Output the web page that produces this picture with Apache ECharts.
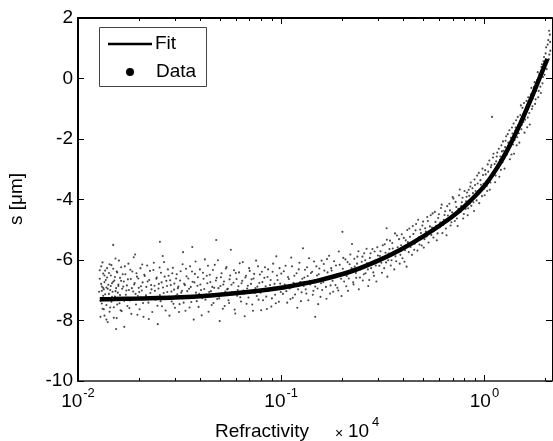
<!DOCTYPE html>
<html><head><meta charset="utf-8">
<script src="https://cdn.jsdelivr.net/npm/echarts@6/dist/echarts.min.js"></script>
<style>html,body{margin:0;padding:0;background:#fff}#c{width:553px;height:441px}</style>
</head><body><div id="c"></div>
<script>
// Fit curve (x in units of 1e4, y in µm)
const fitX = [0.0128,0.015,0.02,0.03,0.045,0.07,0.1,0.124,0.15,0.22,0.3,0.386,0.5,0.68,0.8,1.0,1.16,1.3,1.5,1.75,2.04];
const fitY = [-7.30,-7.29,-7.27,-7.24,-7.17,-7.05,-6.92,-6.80,-6.69,-6.38,-6.02,-5.66,-5.22,-4.61,-4.22,-3.55,-2.93,-2.35,-1.50,-0.45,0.65];

// Measured data points [x, y]
const dataA = [[0.0128,-6.62],[0.0129,-7.35],[0.0130,-6.21],[0.0131,-7.02],[0.0131,-6.88],[0.0132,-7.61],[0.0133,-6.45],[0.0133,-7.18],[0.0134,-6.97],[0.0135,-7.84],[0.0135,-6.73],[0.0136,-6.35],[0.0137,-7.27],[0.0138,-6.91],[0.0138,-7.49],[0.0139,-6.58],[0.0140,-8.05],[0.0141,-6.82],[0.0142,-7.12],[0.0143,-6.14],[0.0143,-7.71],[0.0144,-6.99],[0.0145,-6.51],[0.0146,-7.38],[0.0147,-6.77],[0.0148,-7.05],[0.0149,-6.29],[0.0150,-7.56],[0.0151,-6.68],[0.0152,-7.21],[0.0153,-5.95],[0.0154,-6.93],[0.0155,-7.92],[0.0156,-6.41],[0.0157,-7.08],[0.0158,-6.86],[0.0160,-7.43],[0.0161,-6.59],[0.0162,-7.66],[0.0163,-6.24],[0.0165,-6.95],[0.0166,-7.29],[0.0168,-6.71],[0.0169,-8.21],[0.0171,-6.47],[0.0172,-7.15],[0.0174,-6.84],[0.0175,-7.52],[0.0177,-6.12],[0.0178,-6.99],[0.0180,-7.34],[0.0182,-6.63],[0.0183,-7.78],[0.0185,-6.38],[0.0187,-7.04],[0.0189,-6.81],[0.0191,-5.82],[0.0193,-7.47],[0.0195,-6.55],[0.0197,-7.19],[0.0199,-6.92],[0.0201,-7.63],[0.0203,-6.27],[0.0206,-7.01],[0.0208,-6.74],[0.0210,-7.88],[0.0212,-6.49],[0.0215,-7.24],[0.0217,-6.89],[0.0219,-6.18],[0.0222,-7.41],[0.0224,-6.66],[0.0227,-7.09],[0.0230,-6.97],[0.0232,-7.72],[0.0235,-6.33],[0.0238,-6.85],[0.0241,-7.31],[0.0244,-6.58],[0.0247,-8.12],[0.0250,-6.79],[0.0253,-7.16],[0.0256,-6.42],[0.0259,-7.53],[0.0262,-6.91],[0.0265,-6.07],[0.0268,-7.27],[0.0272,-6.69],[0.0275,-7.06],[0.0279,-6.52],[0.0282,-7.84],[0.0286,-6.83],[0.0289,-7.37],[0.0293,-6.26],[0.0297,-6.98],[0.0300,-7.58]];
const dataA2 = [[0.0127,-7.05],[0.0128,-6.34],[0.0129,-7.88],[0.0130,-6.79],[0.0131,-7.44],[0.0132,-6.08],[0.0133,-6.92],[0.0134,-7.63],[0.0135,-6.51],[0.0136,-7.13],[0.0137,-6.66],[0.0138,-7.97],[0.0139,-6.27],[0.0140,-6.95],[0.0141,-7.31],[0.0142,-6.43],[0.0144,-7.57],[0.0145,-6.86],[0.0146,-6.17],[0.0147,-7.22],[0.0149,-6.72],[0.0149,-5.50],[0.0150,-7.91],[0.0152,-6.56],[0.0153,-7.03],[0.0154,-8.28],[0.0155,-6.38],[0.0156,-7.47],[0.0158,-6.81],[0.0159,-6.02],[0.0161,-7.16],[0.0163,-6.69],[0.0164,-7.69],[0.0166,-6.47],[0.0167,-6.88],[0.0169,-7.35],[0.0170,-6.21],[0.0173,-7.01],[0.0176,-6.64],[0.0179,-7.59],[0.0181,-6.32],[0.0184,-6.93],[0.0186,-7.26],[0.0188,-5.91],[0.0190,-6.76],[0.0192,-7.12],[0.0194,-6.44],[0.0196,-7.81],[0.0198,-6.61],[0.0200,-7.06],[0.0204,-6.87],[0.0207,-6.15],[0.0209,-7.42],[0.0213,-6.53],[0.0216,-7.17],[0.0220,-6.71],[0.0223,-7.95],[0.0226,-6.36],[0.0229,-6.83],[0.0233,-7.28],[0.0236,-6.09],[0.0239,-7.02],[0.0243,-6.62],[0.0246,-7.51],[0.0249,-6.94],[0.0252,-6.25],[0.0253,-5.40],[0.0255,-7.36],[0.0258,-6.74],[0.0261,-5.87],[0.0264,-7.09],[0.0267,-6.55],[0.0270,-7.67],[0.0274,-6.86],[0.0277,-6.31],[0.0281,-7.21],[0.0284,-6.67],[0.0288,-7.04],[0.0291,-6.44],[0.0295,-7.45],[0.0298,-6.78]];
const dataB = [[0.0304,-6.61],[0.0308,-7.13],[0.0312,-6.88],[0.0316,-7.46],[0.0320,-6.37],[0.0325,-7.02],[0.0329,-5.74],[0.0333,-6.79],[0.0338,-7.68],[0.0342,-6.54],[0.0347,-7.21],[0.0352,-6.95],[0.0356,-6.21],[0.0361,-7.39],[0.0365,-5.57],[0.0366,-6.72],[0.0371,-7.97],[0.0376,-6.46],[0.0381,-7.08],[0.0387,-6.85],[0.0392,-7.55],[0.0398,-6.31],[0.0403,-6.99],[0.0409,-7.26],[0.0415,-6.62],[0.0421,-5.98],[0.0427,-7.14],[0.0433,-6.77],[0.0439,-7.71],[0.0445,-6.49],[0.0451,-7.03],[0.0458,-6.89],[0.0464,-7.42],[0.0471,-6.16],[0.0477,-6.68],[0.0479,-5.34],[0.0484,-7.29],[0.0491,-6.93],[0.0498,-8.02],[0.0505,-6.57],[0.0512,-7.11],[0.0519,-6.81],[0.0527,-7.52],[0.0534,-6.28],[0.0542,-6.97],[0.0550,-7.33],[0.0557,-6.64],[0.0565,-5.66],[0.0573,-7.06],[0.0582,-6.75],[0.0590,-7.64],[0.0598,-6.43],[0.0607,-7.18],[0.0616,-6.87],[0.0625,-6.11],[0.0634,-7.37],[0.0643,-6.69],[0.0652,-7.01],[0.0661,-7.86],[0.0671,-6.52],[0.0680,-6.94],[0.0690,-7.24],[0.0700,-6.36],[0.0710,-6.79],[0.0720,-7.47],[0.0731,-6.61],[0.0741,-7.09],[0.0752,-6.02],[0.0763,-6.88],[0.0774,-7.31],[0.0785,-6.48],[0.0797,-7.66],[0.0808,-6.73],[0.0820,-6.97],[0.0832,-6.24],[0.0844,-7.21],[0.0856,-6.56],[0.0868,-7.02],[0.0881,-6.83],[0.0894,-7.54],[0.0907,-6.39],[0.0920,-6.91],[0.0933,-7.15],[0.0946,-5.88],[0.0960,-6.66],[0.0974,-7.38],[0.0988,-6.78]];
const dataB2 = [[0.0302,-7.19],[0.0306,-6.47],[0.0310,-6.93],[0.0314,-7.72],[0.0318,-6.68],[0.0322,-7.08],[0.0327,-6.14],[0.0331,-7.41],[0.0336,-6.83],[0.0340,-6.29],[0.0345,-7.03],[0.0349,-6.61],[0.0354,-7.57],[0.0359,-6.89],[0.0364,-6.38],[0.0369,-7.24],[0.0374,-6.74],[0.0379,-6.05],[0.0384,-7.36],[0.0389,-6.57],[0.0395,-7.12],[0.0400,-6.81],[0.0406,-7.83],[0.0412,-6.42],[0.0418,-6.96],[0.0424,-7.31],[0.0430,-6.52],[0.0436,-6.19],[0.0442,-7.06],[0.0448,-6.73],[0.0455,-7.49],[0.0461,-6.33],[0.0468,-6.92],[0.0474,-7.18],[0.0481,-6.59],[0.0488,-6.01],[0.0495,-7.27],[0.0502,-6.86],[0.0509,-6.44],[0.0516,-7.61],[0.0523,-6.71],[0.0531,-7.04],[0.0538,-6.23],[0.0546,-6.95],[0.0554,-7.42],[0.0561,-6.51],[0.0569,-6.82],[0.0578,-7.14],[0.0586,-6.34],[0.0594,-7.77],[0.0603,-6.63],[0.0611,-6.99],[0.0620,-6.41],[0.0629,-7.23],[0.0638,-6.77],[0.0647,-6.07],[0.0657,-7.11],[0.0666,-6.58],[0.0675,-7.45],[0.0685,-6.85],[0.0695,-6.27],[0.0705,-7.02],[0.0715,-6.64],[0.0726,-7.68],[0.0736,-6.46],[0.0747,-6.93],[0.0758,-7.19],[0.0769,-6.21],[0.0780,-6.76],[0.0791,-7.08],[0.0803,-6.39],[0.0814,-7.33],[0.0826,-6.59],[0.0838,-6.87],[0.0850,-7.62],[0.0862,-6.31],[0.0875,-6.98],[0.0887,-6.66],[0.0900,-7.27],[0.0913,-6.12],[0.0927,-6.79],[0.0940,-7.43],[0.0953,-6.51],[0.0967,-6.94],[0.0981,-6.27],[0.0995,-7.06]];
const dataC = [[0.100,-6.45],[0.102,-7.12],[0.104,-6.81],[0.105,-6.19],[0.107,-7.41],[0.109,-6.63],[0.110,-6.94],[0.112,-5.92],[0.114,-7.25],[0.116,-6.52],[0.118,-6.86],[0.120,-7.58],[0.122,-6.31],[0.124,-6.73],[0.126,-7.07],[0.128,-5.61],[0.130,-6.58],[0.132,-6.97],[0.134,-6.24],[0.136,-7.33],[0.138,-6.69],[0.140,-6.43],[0.143,-7.15],[0.145,-6.05],[0.147,-6.88],[0.147,-7.88],[0.150,-6.51],[0.152,-7.46],[0.154,-6.28],[0.157,-6.77],[0.159,-6.99],[0.162,-6.13],[0.164,-6.62],[0.167,-7.28],[0.169,-6.41],[0.172,-5.86],[0.175,-6.84],[0.177,-6.35],[0.180,-7.05],[0.183,-6.57],[0.186,-6.18],[0.189,-6.92],[0.192,-5.72],[0.195,-6.46],[0.198,-7.19],[0.200,-5.07],[0.201,-6.29],[0.204,-6.71],[0.207,-5.98],[0.210,-6.53],[0.213,-7.02],[0.217,-6.14],[0.220,-6.38],[0.223,-5.47],[0.227,-6.81],[0.230,-6.22],[0.234,-6.59],[0.237,-5.89],[0.241,-6.97],[0.245,-6.31],[0.249,-6.06],[0.252,-6.68],[0.256,-5.78],[0.260,-6.44],[0.264,-6.11],[0.268,-6.86],[0.273,-5.93],[0.277,-6.27],[0.281,-5.64],[0.286,-6.52],[0.290,-6.02],[0.294,-6.71],[0.299,-5.85]];
const dataC2 = [[0.101,-6.88],[0.103,-6.37],[0.106,-7.03],[0.108,-6.56],[0.111,-7.29],[0.113,-6.21],[0.115,-6.75],[0.117,-7.14],[0.119,-6.44],[0.121,-6.97],[0.123,-6.09],[0.125,-7.36],[0.127,-6.62],[0.129,-6.86],[0.131,-6.32],[0.133,-7.11],[0.135,-6.53],[0.137,-5.94],[0.139,-6.81],[0.142,-6.39],[0.144,-7.02],[0.146,-6.66],[0.149,-6.21],[0.151,-6.94],[0.153,-6.47],[0.156,-7.22],[0.158,-6.02],[0.161,-6.73],[0.163,-6.35],[0.166,-6.89],[0.168,-5.97],[0.171,-6.58],[0.174,-7.11],[0.176,-6.27],[0.179,-6.69],[0.182,-6.04],[0.185,-6.83],[0.188,-6.48],[0.191,-7.01],[0.194,-6.16],[0.197,-6.62],[0.202,-5.93],[0.206,-6.45],[0.209,-6.87],[0.212,-6.07],[0.215,-6.61],[0.219,-5.82],[0.222,-6.27],[0.226,-6.74],[0.229,-5.96],[0.233,-6.43],[0.236,-6.12],[0.240,-5.71],[0.244,-6.58],[0.248,-6.22],[0.251,-5.89],[0.255,-6.47],[0.259,-6.01],[0.263,-5.63],[0.267,-6.31],[0.271,-6.66],[0.275,-5.78],[0.279,-6.09],[0.284,-6.41],[0.288,-5.72],[0.292,-6.18],[0.297,-5.58]];
const dataD = [[0.304,-6.19],[0.308,-5.71],[0.313,-6.42],[0.318,-5.93],[0.323,-5.48],[0.328,-6.08],[0.330,-4.95],[0.333,-6.55],[0.338,-5.79],[0.343,-5.36],[0.349,-6.01],[0.354,-5.62],[0.360,-6.31],[0.365,-5.88],[0.371,-5.19],[0.377,-5.74],[0.383,-6.12],[0.389,-5.51],[0.395,-5.94],[0.401,-5.27],[0.407,-5.68],[0.414,-6.22],[0.420,-5.41],[0.427,-4.96],[0.433,-5.57],[0.440,-5.83],[0.447,-5.14],[0.454,-5.46],[0.461,-4.81],[0.468,-5.69],[0.476,-5.25],[0.483,-4.99],[0.491,-5.52],[0.499,-4.73],[0.507,-5.31],[0.515,-5.06],[0.523,-4.58],[0.531,-5.42],[0.539,-4.89],[0.548,-5.17],[0.556,-4.46],[0.565,-5.03],[0.574,-4.74],[0.583,-5.35],[0.592,-4.61],[0.602,-4.92],[0.611,-4.28],[0.621,-5.11],[0.631,-4.67],[0.641,-4.39],[0.651,-5.18],[0.661,-4.53],[0.672,-4.14],[0.682,-4.86],[0.693,-4.42],[0.704,-3.97],[0.715,-4.71],[0.727,-4.25],[0.738,-4.88],[0.750,-3.86],[0.762,-4.41],[0.774,-4.09],[0.786,-4.63],[0.798,-3.72]];
const dataD2 = [[0.306,-5.87],[0.311,-6.09],[0.316,-5.51],[0.321,-6.27],[0.326,-5.76],[0.331,-5.33],[0.336,-6.01],[0.341,-5.64],[0.346,-6.18],[0.352,-5.44],[0.357,-5.82],[0.363,-5.12],[0.368,-6.04],[0.374,-5.58],[0.380,-5.31],[0.386,-5.83],[0.392,-5.15],[0.398,-5.62],[0.404,-6.06],[0.410,-5.35],[0.417,-5.01],[0.424,-5.74],[0.430,-5.23],[0.437,-5.49],[0.444,-4.88],[0.451,-5.66],[0.458,-5.02],[0.465,-5.37],[0.472,-4.67],[0.479,-5.49],[0.487,-5.11],[0.495,-4.86],[0.503,-5.59],[0.511,-4.95],[0.519,-5.22],[0.527,-4.71],[0.535,-5.08],[0.544,-4.52],[0.552,-4.93],[0.561,-5.26],[0.570,-4.41],[0.579,-4.87],[0.588,-5.12],[0.597,-4.49],[0.606,-4.76],[0.616,-4.17],[0.626,-4.84],[0.636,-4.51],[0.646,-4.96],[0.656,-4.22],[0.666,-4.69],[0.677,-4.36],[0.688,-4.75],[0.698,-3.92],[0.710,-4.49],[0.721,-4.08],[0.732,-4.63],[0.744,-4.31],[0.756,-3.67],[0.768,-4.22],[0.780,-3.94],[0.792,-4.48]];
const dataE = [[0.808,-4.31],[0.817,-3.91],[0.827,-4.52],[0.837,-3.68],[0.847,-4.14],[0.857,-3.44],[0.868,-4.02],[0.878,-3.79],[0.889,-4.38],[0.899,-3.52],[0.910,-3.89],[0.921,-3.21],[0.932,-3.71],[0.943,-4.12],[0.955,-3.36],[0.966,-3.62],[0.978,-2.98],[0.990,-3.48],[1.002,-3.86],[1.014,-3.17],[1.026,-3.55],[1.038,-2.84],[1.051,-3.31],[1.063,-3.68],[1.076,-2.93],[1.089,-3.22],[1.090,-1.27],[1.102,-2.61],[1.115,-3.07],[1.129,-3.43],[1.142,-2.74],[1.156,-2.45],[1.170,-2.96],[1.184,-3.25],[1.198,-2.58],[1.212,-2.21],[1.227,-2.77],[1.241,-2.39],[1.256,-2.98],[1.271,-2.06],[1.287,-2.52],[1.302,-1.84],[1.318,-2.31],[1.334,-2.67],[1.350,-1.96],[1.366,-1.62],[1.382,-2.18],[1.399,-2.49],[1.415,-1.73],[1.432,-1.38],[1.450,-1.94],[1.467,-1.55],[1.485,-2.12],[1.502,-1.21],[1.520,-1.68],[1.538,-0.97],[1.557,-1.44],[1.575,-1.79],[1.594,-1.07],[1.613,-0.74],[1.633,-1.29],[1.652,-0.89],[1.672,-1.52],[1.692,-0.53],[1.713,-1.01],[1.733,-0.66],[1.754,-0.28],[1.775,-0.84],[1.796,-0.41],[1.818,-0.05],[1.840,-0.62],[1.862,0.14],[1.884,-0.27],[1.907,0.38],[1.930,-0.16],[1.953,0.57],[1.976,0.12],[2.000,0.83],[2.024,0.31],[2.048,1.12],[2.073,0.64],[2.080,1.58],[2.098,1.45],[2.110,0.92]];
const dataE2 = [[0.812,-4.06],[0.822,-3.77],[0.832,-4.29],[0.842,-3.88],[0.852,-3.57],[0.862,-4.21],[0.873,-3.63],[0.883,-4.09],[0.894,-3.34],[0.905,-3.72],[0.915,-4.03],[0.926,-3.47],[0.938,-3.12],[0.949,-3.77],[0.960,-3.51],[0.972,-3.89],[0.984,-3.19],[0.996,-3.64],[1.008,-3.03],[1.020,-3.41],[1.032,-3.72],[1.044,-3.08],[1.057,-2.71],[1.070,-3.44],[1.082,-2.86],[1.095,-3.13],[1.108,-2.49],[1.122,-2.83],[1.135,-3.21],[1.149,-2.58],[1.163,-2.87],[1.177,-2.32],[1.191,-2.69],[1.205,-3.02],[1.219,-2.41],[1.234,-2.08],[1.249,-2.64],[1.264,-2.27],[1.279,-1.91],[1.294,-2.44],[1.310,-2.12],[1.326,-1.71],[1.342,-2.26],[1.358,-2.51],[1.374,-1.82],[1.391,-1.49],[1.407,-2.03],[1.424,-1.62],[1.441,-2.21],[1.458,-1.27],[1.476,-1.81],[1.494,-1.42],[1.511,-0.89],[1.529,-1.53],[1.548,-1.18],[1.566,-0.81],[1.585,-1.36],[1.604,-0.95],[1.623,-1.61],[1.642,-0.62],[1.662,-1.14],[1.682,-0.77],[1.703,-0.31],[1.723,-0.92],[1.744,-0.47],[1.765,-0.12],[1.786,-0.69],[1.807,-0.22],[1.829,0.21],[1.851,-0.41],[1.873,0.02],[1.896,-0.48],[1.918,0.47],[1.942,0.05],[1.965,0.71],[1.988,0.36],[2.012,1.03],[2.036,0.55],[2.061,1.27],[2.086,0.79],[2.105,1.21]];

const xMin = 0.01, xMax = 2.15;
const yMin = -10, yMax = 2, yStep = 2;
const majorTicks = [0.01, 0.1, 1];
const minorTicks = [0.02,0.03,0.04,0.05,0.06,0.07,0.08,0.09,0.2,0.3,0.4,0.5,0.6,0.7,0.8,0.9,2];
const xTitle = 'Refractivity', yTitle = 's [\u03bcm]';

const FONT = '"Liberation Sans", Arial, sans-serif';
const fitData = fitX.map((x, i) => [x, fitY[i]]);
const scatter = dataA.concat(dataA2, dataB, dataB2, dataC, dataC2, dataD, dataD2, dataE, dataE2);

function xAx(pos, opts) {
  return Object.assign({
    type: 'log', logBase: 10, min: xMin, max: xMax, position: pos,
    axisLine: { show: false, onZero: false }, splitLine: { show: false },
    axisLabel: { show: false },
    axisTick: { show: true, inside: true, length: 6, customValues: majorTicks, lineStyle: { color: '#000', width: 1 } }
  }, opts);
}
const chart = echarts.init(document.getElementById('c'), null, { renderer: 'canvas' });
chart.setOption({
  animation: false,
  backgroundColor: '#fff',
  grid: { left: 78, right: 1, top: 18, bottom: 60, containLabel: false, outerBoundsMode: 'none' },
  xAxis: [
    xAx('bottom', {
      axisLine: { show: true, onZero: false, lineStyle: { color: '#222', width: 1.5 } },
      axisLabel: {
        show: true, margin: 6, fontFamily: FONT, color: '#000', customValues: majorTicks,
        formatter: v => '{b|10}{s|' + Math.round(Math.log10(v)) + '}',
        rich: { b: { fontSize: 19, fontFamily: FONT, color: '#000', lineHeight: 22, padding: [8, 0, 0, 0] },
                s: { fontSize: 13, fontFamily: FONT, color: '#000', lineHeight: 14, padding: [0, 0, 10, 1] } }
      }
    }),
    xAx('top', { axisLine: { show: true, onZero: false, lineStyle: { color: '#000', width: 2 } } }),
    xAx('bottom', { axisTick: { show: true, inside: true, length: 3, customValues: minorTicks, lineStyle: { color: '#000' } } }),
    xAx('top', { axisTick: { show: true, inside: true, length: 3, customValues: minorTicks, lineStyle: { color: '#000' } } })
  ],
  yAxis: [
    { type: 'value', min: yMin, max: yMax, interval: yStep, position: 'left',
      axisLine: { show: true, onZero: false, lineStyle: { color: '#000', width: 2 } },
      axisTick: { show: true, inside: true, length: 6, lineStyle: { color: '#000' } },
      splitLine: { show: false },
      axisLabel: { margin: 5, fontSize: 19, fontFamily: FONT, color: '#000' } },
    { type: 'value', min: yMin, max: yMax, interval: yStep, position: 'right',
      axisLine: { show: true, onZero: false, lineStyle: { color: '#000', width: 1 } },
      axisTick: { show: true, inside: true, length: 6, lineStyle: { color: '#000' } },
      splitLine: { show: false }, axisLabel: { show: false } }
  ],
  series: [
    { type: 'scatter', name: 'Data', xAxisIndex: 0, yAxisIndex: 0, data: scatter,
      symbol: 'circle', symbolSize: 2.1, itemStyle: { color: '#1a1a1a' }, silent: true, large: false },
    { type: 'line', name: 'Fit', xAxisIndex: 0, yAxisIndex: 0, data: fitData, smooth: 0.3,
      showSymbol: false, lineStyle: { color: '#000', width: 4.5 }, silent: true }
  ],
  graphic: [
    { type: 'rect', shape: { x: 99.5, y: 27.5, width: 107, height: 59 },
      style: { fill: '#fff', stroke: '#444', lineWidth: 1 }, z: 100 },
    { type: 'line', shape: { x1: 108, y1: 44, x2: 152, y2: 44 }, style: { stroke: '#000', lineWidth: 2.5 }, z: 101 },
    { type: 'text', x: 155, y: 44, style: { text: 'Fit', font: '19px ' + FONT, fill: '#000', verticalAlign: 'middle' }, z: 101 },
    { type: 'circle', shape: { cx: 130, cy: 72, r: 4 }, style: { fill: '#000' }, z: 101 },
    { type: 'text', x: 156, y: 72, style: { text: 'Data', font: '19px ' + FONT, fill: '#000', verticalAlign: 'middle' }, z: 101 },
    { type: 'text', x: 215, y: 432, style: { text: xTitle, font: '19px ' + FONT, fill: '#000', verticalAlign: 'middle' } },
    { type: 'text', x: 335, y: 434, style: { text: '\u00d7', font: '14px ' + FONT, fill: '#000', verticalAlign: 'middle' } },
    { type: 'text', x: 348, y: 432, style: { text: '10', font: '19px ' + FONT, fill: '#000', verticalAlign: 'middle' } },
    { type: 'text', x: 372, y: 422, style: { text: '4', font: '13px ' + FONT, fill: '#000', verticalAlign: 'middle' } },
    { type: 'text', x: 17, y: 199, rotation: Math.PI / 2,
      style: { text: yTitle, font: '19px ' + FONT, fill: '#000', align: 'center', verticalAlign: 'middle' } }
  ]
});
</script></body></html>
